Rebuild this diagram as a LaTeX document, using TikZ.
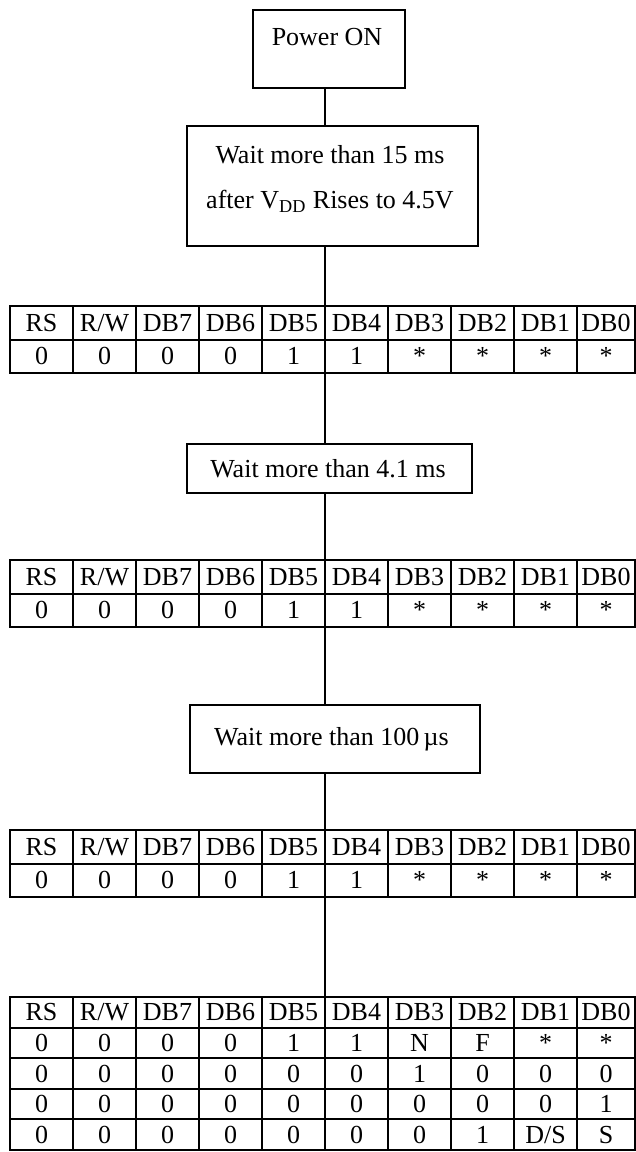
\documentclass[tikz,border=0pt]{standalone}
\usepackage{fontspec}
\setmainfont{Liberation Serif}
% #1 table name, #2 row index, #3 row centre y (px), #4 row height (pt), #5 cell texts
\newcommand\tabrow[5]{%
  \foreach \txt [count=\ci] in {#5} {%
    \pgfmathsetmacro\cw{(\ci==10 ? 58 : 63)/2}%
    \pgfmathsetmacro\cx{\ci==10 ? 606 : 41.5+63*(\ci-1)}%
    \node[cell, minimum width=\cw pt, minimum height=#4 pt] (#1-#2-\ci) at (\cx,#3) {\txt};%
  }}
\begin{document}
\begin{tikzpicture}[x=0.5pt,y=-0.5pt,line width=1pt,
  every node/.style={font=\fontsize{13pt}{22.5pt}\selectfont},
  box/.style={draw, inner sep=0pt, outer sep=0pt},
  cell/.style={draw, inner sep=0pt, outer sep=0pt, text height=11pt, text depth=2.4pt}]
\fill[white] (0,0) rectangle (636,1152);
\useasboundingbox (0,0) rectangle (636,1152);
\coordinate (sp) at (325,0);

% boxes
\node[box, minimum width=76pt, minimum height=39pt] (pon) at (329,49) {};
\node (pontxt) at (327,37) {Power ON};
\node[box, minimum width=145.5pt, minimum height=60pt] (w15) at (332.5,186) {};
\node[align=center] (w15txt) at (330,179) {Wait more than 15 ms\\after V\textsubscript{DD} Rises to 4.5V};
\node[box, minimum width=142.5pt, minimum height=24.5pt] (w41) at (329.5,468.5) {};
\node (w41txt) at (328,469) {Wait more than 4.1 ms};
\node[box, minimum width=145pt, minimum height=34pt] (w100) at (335,739) {};
\node (w100txt) at (331.5,739) {Wait more than 100\,µs};

% tables
\tabrow{t1}{1}{322.75}{16.75}{RS,R/W,DB7,DB6,DB5,DB4,DB3,DB2,DB1,DB0}
\tabrow{t1}{2}{356.25}{16.75}{0,0,0,0,1,1,*,*,*,*}
\tabrow{t2}{1}{576.75}{16.75}{RS,R/W,DB7,DB6,DB5,DB4,DB3,DB2,DB1,DB0}
\tabrow{t2}{2}{610.25}{16.75}{0,0,0,0,1,1,*,*,*,*}
\tabrow{t3}{1}{846.75}{16.75}{RS,R/W,DB7,DB6,DB5,DB4,DB3,DB2,DB1,DB0}
\tabrow{t3}{2}{880.25}{16.75}{0,0,0,0,1,1,*,*,*,*}
\tabrow{t4}{1}{1012.3}{15.3}{RS,R/W,DB7,DB6,DB5,DB4,DB3,DB2,DB1,DB0}
\tabrow{t4}{2}{1042.9}{15.3}{0,0,0,0,1,1,N,F,*,*}
\tabrow{t4}{3}{1073.5}{15.3}{0,0,0,0,0,0,1,0,0,0}
\tabrow{t4}{4}{1104.1}{15.3}{0,0,0,0,0,0,0,0,0,1}
\tabrow{t4}{5}{1134.7}{15.3}{0,0,0,0,0,0,0,1,D/S,S}

% connectors
\draw (pon.south -| sp) -- (w15.north -| sp);
\draw (w15.south -| sp) -- (t1-1-5.north east);
\draw (t1-2-5.south east) -- (w41.north -| sp);
\draw (w41.south -| sp) -- (t2-1-5.north east);
\draw (t2-2-5.south east) -- (w100.north -| sp);
\draw (w100.south -| sp) -- (t3-1-5.north east);
\draw (t3-2-5.south east) -- (t4-1-5.north east);
\end{tikzpicture}
\end{document}
